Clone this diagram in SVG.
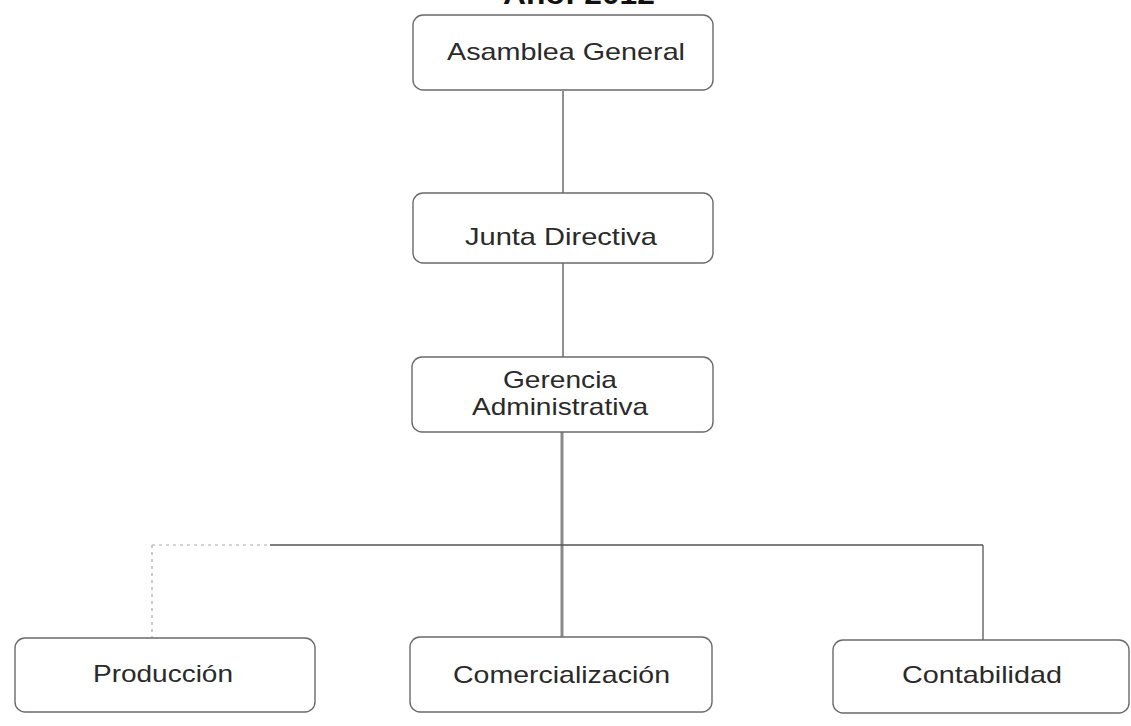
<svg xmlns="http://www.w3.org/2000/svg" width="1131" height="726" viewBox="0 0 1131 726">
<style>
.box{fill:#fff;stroke:#6a6a6a;stroke-width:1.4}
.lbl{font-family:"Liberation Sans",Arial,sans-serif;font-size:24px;fill:#2a2a2a}
.title{font-family:"Liberation Sans",Arial,sans-serif;font-size:30px;font-weight:bold;fill:#111}
.ln{stroke:#555;stroke-width:1.3;fill:none}
.thick{stroke:#8a8a8a;stroke-width:3;fill:none}
.faint{stroke:#aaa;stroke-width:1.2;fill:none;stroke-dasharray:3 4}
</style>
<rect width="1131" height="726" fill="#fff"/>
<text class="title" x="503" y="4" textLength="152" lengthAdjust="spacingAndGlyphs">Año: 2012</text>
<g id="connectors">
<line class="ln" x1="563" y1="91" x2="563" y2="193"/>
<line class="ln" x1="563" y1="263" x2="563" y2="357"/>
<line class="thick" x1="562" y1="432" x2="562" y2="637"/>
<line class="faint" x1="152" y1="545" x2="270" y2="545"/>
<line class="ln" x1="270" y1="545" x2="983" y2="545" stroke="#777"/>
<line class="faint" x1="152" y1="545" x2="152" y2="638"/>
<line class="ln" x1="983" y1="545" x2="983" y2="640"/>
</g>
<g id="asamblea">
<rect class="box" x="413" y="15" width="300" height="75" rx="10"/>
<text class="lbl" x="447" y="60" textLength="238" lengthAdjust="spacingAndGlyphs">Asamblea General</text>
</g>
<g id="junta">
<rect class="box" x="413" y="193" width="300" height="70" rx="10"/>
<text class="lbl" x="465" y="245" textLength="192" lengthAdjust="spacingAndGlyphs">Junta Directiva</text>
</g>
<g id="gerencia">
<rect class="box" x="412" y="357" width="301" height="75" rx="10"/>
<text class="lbl" x="503" y="388" textLength="114" lengthAdjust="spacingAndGlyphs">Gerencia</text>
<text class="lbl" x="472" y="415" textLength="176" lengthAdjust="spacingAndGlyphs">Administrativa</text>
</g>
<g id="produccion">
<rect class="box" x="15" y="638" width="300" height="74" rx="10" stroke="#999"/>
<text class="lbl" x="93" y="682" textLength="140" lengthAdjust="spacingAndGlyphs">Producción</text>
</g>
<g id="comercializacion">
<rect class="box" x="410" y="637" width="302" height="75" rx="10"/>
<text class="lbl" x="453" y="683" textLength="217" lengthAdjust="spacingAndGlyphs">Comercialización</text>
</g>
<g id="contabilidad">
<rect class="box" x="833" y="640" width="296" height="73" rx="10"/>
<text class="lbl" x="902" y="683" textLength="160" lengthAdjust="spacingAndGlyphs">Contabilidad</text>
</g>
</svg>
